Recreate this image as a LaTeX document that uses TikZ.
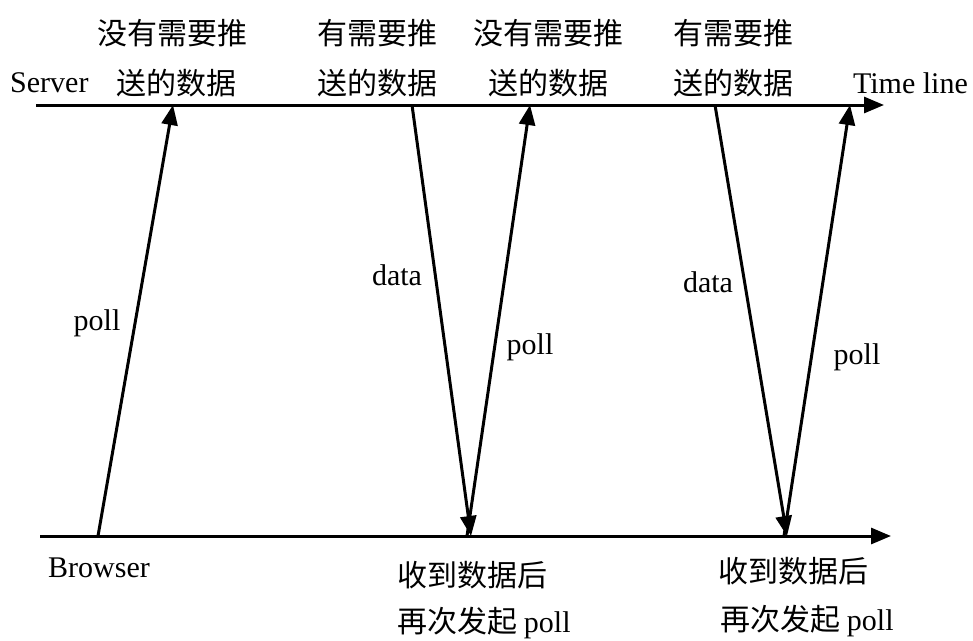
\documentclass[tikz,border=0pt]{standalone}
\usepackage{fontspec}
\setmainfont{Liberation Serif}
\newfontfamily\cjk{Noto Sans CJK SC}
\usetikzlibrary{arrows.meta}
\begin{document}
\begin{tikzpicture}[x=1pt,y=-1pt,
  axis/.style={line width=3pt,-{Triangle[length=20pt,width=16pt]}},
  msg/.style={line width=3pt,-{Triangle[length=20pt,width=16pt]}},
  lat/.style={font=\fontsize{30}{30}\selectfont,inner sep=0pt},
  zh/.style={font=\cjk\fontsize{30}{30}\selectfont,inner sep=0pt}]
\useasboundingbox (0,0) rectangle (973,640);
% time lines
\coordinate (sL) at (36,105);
\coordinate (sR) at (884,105);
\coordinate (bL) at (40,536);
\coordinate (bR) at (891,536);
\draw[axis] (sL) -- (sR);
\draw[axis] (bL) -- (bR);
% message end points
\coordinate (p1a) at (98,536);
\coordinate (p1b) at (173,105);
\coordinate (d1a) at (412,105);
\coordinate (d1b) at (471,536);
\coordinate (p2a) at (467,536);
\coordinate (p2b) at (530,105);
\coordinate (d2a) at (715,105);
\coordinate (d2b) at (787,536);
\coordinate (p3a) at (784,536);
\coordinate (p3b) at (850,105);
\draw[msg] (p1a) -- (p1b);
\draw[msg] (d1a) -- (d1b);
\draw[msg] (p2a) -- (p2b);
\draw[msg] (d2a) -- (d2b);
\draw[msg] (p3a) -- (p3b);
% top labels
\node[zh] (t1a) at (172,33) {没有需要推};
\node[zh] (t1b) at (176,83) {送的数据};
\node[lat,anchor=west] (server) at (10,83) {Server};
\node[zh] (t2a) at (377,33) {有需要推};
\node[zh] (t2b) at (377,83) {送的数据};
\node[zh] (t3a) at (548,33) {没有需要推};
\node[zh] (t3b) at (548,83) {送的数据};
\node[zh] (t4a) at (733,33) {有需要推};
\node[zh] (t4b) at (733,83) {送的数据};
\node[lat,anchor=east] (tl) at (968,83) {Time line};
% message labels
\node[lat] (l1) at (97,323) {poll};
\node[lat] (l2) at (397,275) {data};
\node[lat] (l3) at (530,347) {poll};
\node[lat] (l4) at (708,282) {data};
\node[lat] (l5) at (857,357) {poll};
% bottom labels
\node[lat,anchor=west] (browser) at (48,568) {Browser};
\node[zh,anchor=west] (r1a) at (397,575) {收到数据后};
\node[zh,anchor=west] (r1b) at (397,623) {再次发起\ \textrm{poll}};
\node[zh,anchor=west] (r2a) at (718,571) {收到数据后};
\node[zh,anchor=west] (r2b) at (720,621) {再次发起\ \textrm{poll}};
\end{tikzpicture}
\end{document}
